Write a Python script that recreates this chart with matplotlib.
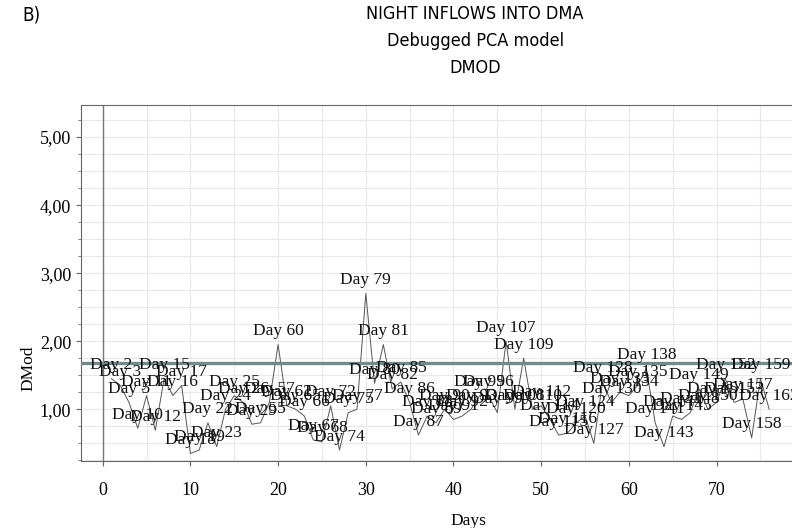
import matplotlib.pyplot as plt
from matplotlib.ticker import MultipleLocator, FuncFormatter

obs = list(range(1, 77))
days = [2, 3, 5, 10, 11, 12, 15, 16, 17, 18,
        19, 22, 23, 24, 25, 26, 29, 55, 57, 60,
        62, 65, 66, 67, 68, 72, 74, 75, 77, 79,
        80, 81, 82, 85, 86, 87, 88, 89, 90, 91,
        92, 93, 95, 96, 99, 107, 108, 109, 110, 112,
        114, 115, 116, 120, 124, 127, 128, 130, 133, 134,
        135, 138, 141, 143, 144, 145, 148, 149, 150, 151,
        152, 153, 157, 158, 159, 162]
dmod = [1.45, 1.35, 1.10, 0.72, 1.20, 0.69, 1.45, 1.20, 1.35, 0.35,
        0.40, 0.80, 0.45, 1.00, 1.20, 1.10, 0.78, 0.80, 1.10, 1.95,
        1.05, 1.00, 0.90, 0.55, 0.52, 1.05, 0.40, 0.95, 1.00, 2.70,
        1.38, 1.95, 1.30, 1.40, 1.10, 0.62, 0.90, 0.80, 1.00, 0.85,
        0.90, 1.00, 1.20, 1.20, 0.95, 2.00, 1.00, 1.75, 1.00, 1.05,
        0.85, 0.62, 0.65, 0.80, 0.90, 0.50, 1.40, 1.10, 1.25, 1.20,
        1.35, 1.60, 0.80, 0.45, 0.90, 0.85, 0.95, 1.30, 1.00, 1.10,
        1.45, 1.10, 1.15, 0.58, 1.45, 1.00]
limit = 1.68

fig = plt.figure(figsize=(7.92, 5.28), dpi=100)
ax = fig.add_axes([0.102, 0.127, 0.898, 0.674])

ax.plot(obs, dmod, color='#555555', linewidth=0.7)
ax.axhline(limit, color='#6f8c8c', linewidth=2.4, zorder=3)
ax.axvline(0, color='#777777', linewidth=1.0)

for x, d, v in zip(obs, days, dmod):
    ax.annotate(f"Day {d}", (x, v), xytext=(0, 4), textcoords='offset points',
                ha='center', va='bottom', family='Liberation Serif', fontsize=12.5,
                color='#111111', annotation_clip=False)

ax.set_xlim(-2.5, 78.6)
ax.set_ylim(0.24, 5.47)
ax.xaxis.set_major_locator(MultipleLocator(10))
ax.xaxis.set_minor_locator(MultipleLocator(5))
ax.yaxis.set_major_locator(MultipleLocator(1))
ax.yaxis.set_minor_locator(MultipleLocator(0.25))
ax.yaxis.set_major_formatter(FuncFormatter(lambda v, p: f"{v:.2f}".replace('.', ',')))
ax.grid(True, which='both', color='#e8e8e8', linewidth=0.8)
ax.set_axisbelow(True)
ax.tick_params(which='both', direction='out', color='#666666', labelsize=13)
ax.tick_params(axis='x', which='minor', length=0)
for lab in ax.get_xticklabels() + ax.get_yticklabels():
    lab.set_family('Liberation Serif')
ax.tick_params(axis='x', pad=12)
for s in ['left', 'bottom', 'top']:
    ax.spines[s].set_color('#666666')
ax.spines['right'].set_visible(False)

ax.set_xlabel("Days", family='Liberation Serif', fontsize=12.5)
ax.set_ylabel("DMod", family='Liberation Serif', fontsize=12.5)
ax.xaxis.set_label_coords(0.545, -0.145)
ax.yaxis.set_label_coords(-0.062, 0.26)

tfont = 'DejaVu Sans'
fig.text(0.6, 0.99, "NIGHT INFLOWS INTO DMA\nDebugged PCA model\nDMOD", ha='center', va='top',
         family=tfont, stretch='condensed', fontsize=13, linespacing=1.65)
fig.text(0.028, 0.99, "B)", ha='left', va='top', family=tfont, stretch='condensed', fontsize=13.5)

fig.savefig("out.png", dpi=100)
